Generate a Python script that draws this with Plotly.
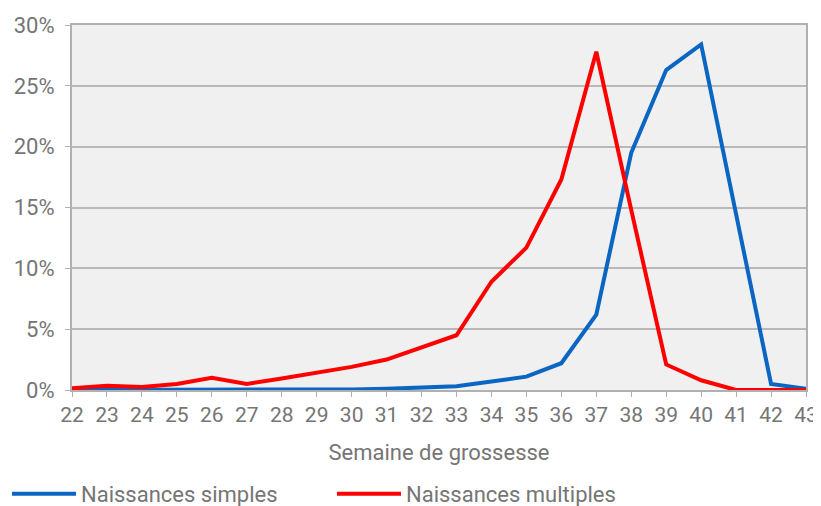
import plotly.graph_objects as go

weeks = list(range(22, 44))
simples = [0, 0, 0, 0, 0.05, 0.05, 0.05, 0.05, 0.05, 0.1, 0.2, 0.3, 0.7, 1.1, 2.2, 6.2, 19.5, 26.3, 28.4, 14.4, 0.5, 0.1]
multiples = [0.15, 0.35, 0.25, 0.5, 1.0, 0.5, 0.95, 1.4, 1.9, 2.5, 3.5, 4.5, 8.9, 11.7, 17.3, 27.8, 14.8, 2.1, 0.8, 0.0, 0.0, 0.0]
y_ticks = [0, 5, 10, 15, 20, 25, 30]
y_labels = ["0%", "5%", "10%", "15%", "20%", "25%", "30%"]

fig = go.Figure()
fig.add_trace(go.Scatter(x=weeks, y=simples, mode="lines", name="Naissances simples",
                         line=dict(color="#0a66c2", width=4)))
fig.add_trace(go.Scatter(x=weeks, y=multiples, mode="lines", name="Naissances multiples",
                         line=dict(color="#ff0000", width=4)))

font_color = "#757575"
# page body has an 8px margin: figure is sized/offset to put the plot area at 72..806 x 25..390
fig.update_layout(
    width=813, height=498,
    margin=dict(l=64, r=15, t=17, b=116, autoexpand=False),
    paper_bgcolor="white", plot_bgcolor="#f0f0f0",
    font=dict(family="Roboto", color=font_color, size=21),
    showlegend=True,
    legend=dict(orientation="h", x=(7 - 72) / 734, xanchor="left", y=-0.2274, yanchor="top",
                font=dict(size=22, color=font_color), itemwidth=64,
                entrywidth=246, entrywidthmode="pixels", tracegroupgap=0,
                bgcolor="rgba(0,0,0,0)"),
)
fig.update_xaxes(
    range=[22, 43], tickmode="array", tickvals=weeks, ticktext=[str(w) for w in weeks],
    showgrid=False, showline=True, linecolor="#b0b0b0", linewidth=2, mirror=True,
    ticks="outside", ticklen=5, tickcolor="#b0b0b0", tickwidth=1,
    tickfont=dict(size=21, color=font_color), automargin=False,
    title=dict(text="Semaine de grossesse", font=dict(size=22, color=font_color), standoff=18),
    zeroline=False,
)
fig.update_yaxes(
    range=[0, 30], tickmode="array", tickvals=y_ticks, ticktext=y_labels,
    showgrid=True, gridcolor="#b8b8b8", gridwidth=1.5, automargin=False,
    showline=True, linecolor="#b0b0b0", linewidth=2, mirror=True,
    ticks="outside", ticklen=5, tickcolor="#b0b0b0", ticklabelstandoff=6,
    tickfont=dict(size=22, color=font_color), zeroline=False,
)

fig.write_html("out.html")
